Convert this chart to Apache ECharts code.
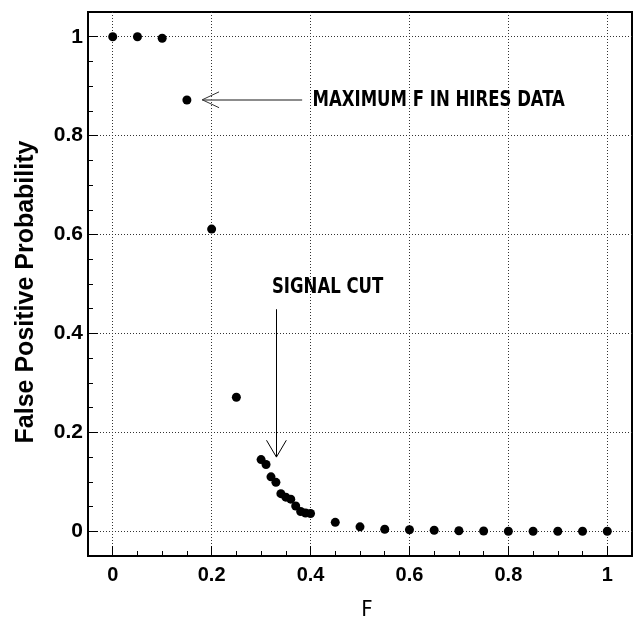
<!DOCTYPE html>
<html><head><meta charset="utf-8">
<script src="https://cdn.jsdelivr.net/npm/echarts@6/dist/echarts.min.js"></script>
<style>html,body{margin:0;padding:0;background:#fff}#c{width:633px;height:619px}</style>
</head><body><div id="c"></div>
<script>
// ---- data ----
const fValues = [0, 0.05, 0.10, 0.15, 0.20, 0.25, 0.30, 0.31, 0.32, 0.33, 0.34, 0.35, 0.36, 0.37, 0.38, 0.39, 0.40,
  0.45, 0.50, 0.55, 0.60, 0.65, 0.70, 0.75, 0.80, 0.85, 0.90, 0.95, 1.00];
const falsePosProb = [1.0, 1.0, 0.997, 0.872, 0.611, 0.271, 0.145, 0.135, 0.110, 0.099, 0.076, 0.069, 0.065, 0.051, 0.040, 0.037, 0.036,
  0.018, 0.009, 0.004, 0.003, 0.002, 0.001, 0.0005, 0, 0, 0, 0, 0];
const majorTicks = [0, 0.2, 0.4, 0.6, 0.8, 1];
const minorTicks = [0.05, 0.10, 0.15, 0.25, 0.30, 0.35, 0.45, 0.50, 0.55, 0.65, 0.70, 0.75, 0.85, 0.90, 0.95];
const xName = 'F';
const yName = 'False Positive Probability';
// annotations (data coordinates)
const maxLabel = 'MAXIMUM F IN HIRES DATA';
const maxArrowFrom = [0.383, 0.8725];
const maxArrowTo = [0.181, 0.8725];
const maxLabelAt = [0.404, 0.8725];
const cutLabel = 'SIGNAL CUT';
const cutArrowFrom = [0.331, 0.449];
const cutArrowTo = [0.331, 0.150];
const cutLabelAt = [0.322, 0.493];

const AX_MIN = -0.05, AX_MAX = 1.05;
const helv = '"Liberation Sans", Arial, Helvetica, sans-serif';
const annFamily = '"DejaVu Sans Condensed", "DejaVu Sans", sans-serif';

function mainAxis(isX) {
  return {
    type: 'value', min: AX_MIN, max: AX_MAX, position: isX ? 'bottom' : 'left',
    name: isX ? xName : yName, nameLocation: 'middle',
    nameGap: isX ? 43 : 49,
    nameTextStyle: isX ? {fontFamily: '"DejaVu Sans Condensed", "DejaVu Sans", sans-serif', fontSize: 22, color: '#000', padding: [0, 0, 0, 14]}
                       : {fontFamily: helv, fontWeight: 'bold', fontSize: 25, color: '#000', padding: [0, 0, 0, -16]},
    axisLine: {show: true, onZero: false, lineStyle: {color: '#000', width: 2}},
    axisTick: {show: true, inside: true, length: 10, customValues: majorTicks, lineStyle: {color: '#000', width: 1}},
    axisLabel: {show: true, margin: isX ? 9 : 5, customValues: majorTicks,
      fontFamily: helv, fontWeight: 'bold', fontSize: isX ? 20 : 21, color: '#000',
      formatter: v => String(+v.toFixed(2))},
    splitLine: {show: true, lineStyle: {color: '#333', width: 1, type: [1, 2]}},
    minorTick: {show: false}
  };
}
function minorAxis(isX) {
  return {
    type: 'value', min: AX_MIN, max: AX_MAX, position: isX ? 'bottom' : 'left',
    axisLine: {show: false, onZero: false},
    axisTick: {show: true, inside: true, length: 5, customValues: minorTicks, lineStyle: {color: '#000', width: 1}},
    axisLabel: {show: false},
    splitLine: {show: false}
  };
}

function seg(a, b, color, w) {
  return [{coord: a, lineStyle: {color: color, width: w, type: 'solid'}}, {coord: b}];
}
function headH(tip, len, half, color) {
  return [seg(tip, [tip[0] + len, tip[1] + half], color, 1), seg(tip, [tip[0] + len, tip[1] - half], color, 1)];
}
function headV(tip, len, half, color) {
  return [seg(tip, [tip[0] - half, tip[1] + len], color, 1), seg(tip, [tip[0] + half, tip[1] + len], color, 1)];
}

const lines = [
  seg(maxArrowFrom, maxArrowTo, '#666', 1.5),
  ...headH(maxArrowTo, 0.034, 0.016, '#333'),
  seg(cutArrowFrom, cutArrowTo, '#000', 1),
  ...headV(cutArrowTo, 0.034, 0.02, '#000')
];

const chart = echarts.init(document.getElementById('c'), null, {renderer: 'canvas'});
chart.setOption({
  animation: false,
  backgroundColor: '#fff',
  grid: {left: 88, right: 1, top: 12, bottom: 63, show: true, borderColor: '#000', borderWidth: 2,
    containLabel: false, outerBoundsMode: 'none'},
  xAxis: [mainAxis(true), minorAxis(true)],
  yAxis: [mainAxis(false), minorAxis(false)],
  series: [{
    type: 'scatter', xAxisIndex: 0, yAxisIndex: 0,
    data: fValues.map((f, i) => [f, falsePosProb[i]]),
    symbol: 'circle', symbolSize: 9,
    itemStyle: {color: '#000', opacity: 1},
    markLine: {silent: true, symbol: ['none', 'none'], label: {show: false}, animation: false, data: lines}
  }]
});

// annotation texts placed at data coordinates, horizontally condensed
function annText(label, at) {
  const p = chart.convertToPixel({gridIndex: 0}, at);
  return {
    type: 'text', x: p[0], y: p[1], scaleX: 0.835, silent: true,
    style: {text: label, fontFamily: annFamily, fontWeight: 'bold', fontSize: 22, fill: '#000',
      align: 'left', verticalAlign: 'middle'}
  };
}
chart.setOption({graphic: [annText(maxLabel, maxLabelAt), annText(cutLabel, cutLabelAt)]});
</script></body></html>
